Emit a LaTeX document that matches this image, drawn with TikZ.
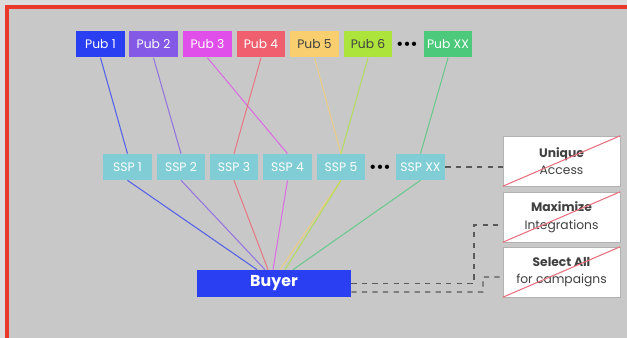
\documentclass[tikz,border=0pt]{standalone}
\usepackage{fontspec}
\setmainfont{Poppins}
\usepackage{xcolor}
\usetikzlibrary{arrows}

\definecolor{pubA}{HTML}{2B3FF2}
\definecolor{pubB}{HTML}{8359E6}
\definecolor{pubC}{HTML}{E04FEA}
\definecolor{pubD}{HTML}{F05F6E}
\definecolor{pubE}{HTML}{F8CE6E}
\definecolor{pubF}{HTML}{ADE43C}
\definecolor{pubX}{HTML}{4CC97A}
\definecolor{sspc}{HTML}{80CDD6}
\definecolor{frame}{HTML}{E8392A}
\definecolor{panel}{HTML}{C8C8C8}
\definecolor{outer}{HTML}{DCDCDC}
\definecolor{cross}{HTML}{E8707E}

\tikzset{
	pub/.style={fill=#1, text=white, minimum width=0.98cm, minimum height=0.54cm, inner sep=0pt, font=\fontsize{7}{8}\selectfont},
	ssp/.style={fill=sspc, text=white, minimum width=0.98cm, minimum height=0.52cm, inner sep=0pt, font=\fontsize{7}{8}\selectfont},
	feat/.style={fill=white, draw=gray!60, line width=0.3pt, minimum width=2.34cm, minimum height=1cm, inner sep=0pt, align=center, text=black!75, font=\fontsize{7}{10}\selectfont},
	wire/.style={draw=#1, line width=0.6pt, opacity=0.75},
	link/.style={draw=black!65, dashed, line width=0.7pt},
	dots/.style={inner sep=0pt, font=\fontsize{5}{6}\selectfont}
}

\begin{document}
\begin{tikzpicture}[x=0.02cm, y=-0.02cm]
	\useasboundingbox (0,0) rectangle (627,338);
	
	% Fundo
	\fill[outer] (0,0) rectangle (627,338);
	\fill[panel] (7,7) rectangle (640,350);
	\draw[frame, line width=1.8pt] (7,350) -- (7,7) -- (640,7);
	
	% Publishers
	\node[pub=pubA] (p1) at (100.5,44) {Pub 1};
	\node[pub=pubB] (p2) at (153.5,44) {Pub 2};
	\node[pub=pubC] (p3) at (207.5,44) {Pub 3};
	\node[pub=pubD] (p4) at (261,44) {Pub 4};
	\node[pub=pubE, text=black!75] (p5) at (314.5,44) {Pub 5};
	\node[pub=pubF, text=black!75] (p6) at (368,44) {Pub 6};
	\node[dots] (pd) at (407,44) {$\bullet\!\bullet\!\bullet$};
	\node[pub=pubX] (pX) at (448,44) {Pub XX};
	
	% SSPs
	\node[ssp] (s1) at (127.5,167) {SSP 1};
	\node[ssp] (s2) at (181,167) {SSP 2};
	\node[ssp] (s3) at (234,167) {SSP 3};
	\node[ssp] (s4) at (287.5,167) {SSP 4};
	\node[ssp] (s5) at (341,167) {SSP 5};
	\node[dots] (sd) at (380,167) {$\bullet\!\bullet\!\bullet$};
	\node[ssp] (sX) at (420.5,167) {SSP XX};
	
	% Buyer
	\node[fill=pubA, text=white, minimum width=3.08cm, minimum height=0.54cm, inner sep=0pt, font=\fontsize{9}{10}\selectfont\bfseries] (buyer) at (274,283.5) {Buyer};
	
	% Caixas da direita
	\node[feat] (u1) at (561.5,161) {\textbf{Unique}\\Access};
	\node[feat] (u2) at (561.5,217) {\textbf{Maximize}\\Integrations};
	\node[feat] (u3) at (561.5,272) {\textbf{Select All}\\for campaigns};
	\draw[cross, line width=0.6pt] (u1.south west) -- (u1.north east);
	\draw[cross, line width=0.6pt] (u2.south west) -- (u2.north east);
	\draw[cross, line width=0.6pt] (u3.south west) -- (u3.north east);
	
	% Pub -> SSP
	\draw[wire=pubA] (p1.south) -- (s1.north);
	\draw[wire=pubB] (p2.south) -- (s2.north);
	\draw[wire=pubC] (p3.south) -- (s4.north);
	\draw[wire=pubD] (p4.south) -- (s3.north);
	\draw[wire=pubE] (p5.south) -- (s5.north);
	\draw[wire=pubF] (p6.south) -- (s5.north);
	\draw[wire=pubX] (pX.south) -- (sX.north);
	
	% SSP -> Buyer
	\draw[wire=pubA] (s1.south) -- ([xshift=-0.34cm]buyer.north);
	\draw[wire=pubB] (s2.south) -- ([xshift=-0.18cm]buyer.north);
	\draw[wire=pubD] (s3.south) -- ([xshift=-0.12cm]buyer.north);
	\draw[wire=pubC] (s4.south) -- ([xshift=-0.02cm]buyer.north);
	\draw[wire=pubE] (s5.south) -- ([xshift=0.12cm]buyer.north);
	\draw[wire=pubF] (s5.south) -- ([xshift=0.22cm]buyer.north);
	\draw[wire=pubX] (sX.south) -- ([xshift=0.38cm]buyer.north);
	
	% Ligacoes tracejadas
	\coordinate (j2) at (474,283.5);
	\coordinate (j3) at (483,292);
	\draw[link] (sX.east) -- (sX.east -| u1.west);
	\draw[link] (buyer.east) -- (j2) |- ([yshift=-0.16cm]u2.west);
	\draw[link] ([yshift=-0.17cm]buyer.east) -- (j3) |- ([yshift=-0.1cm]u3.west);
\end{tikzpicture}
\end{document}
